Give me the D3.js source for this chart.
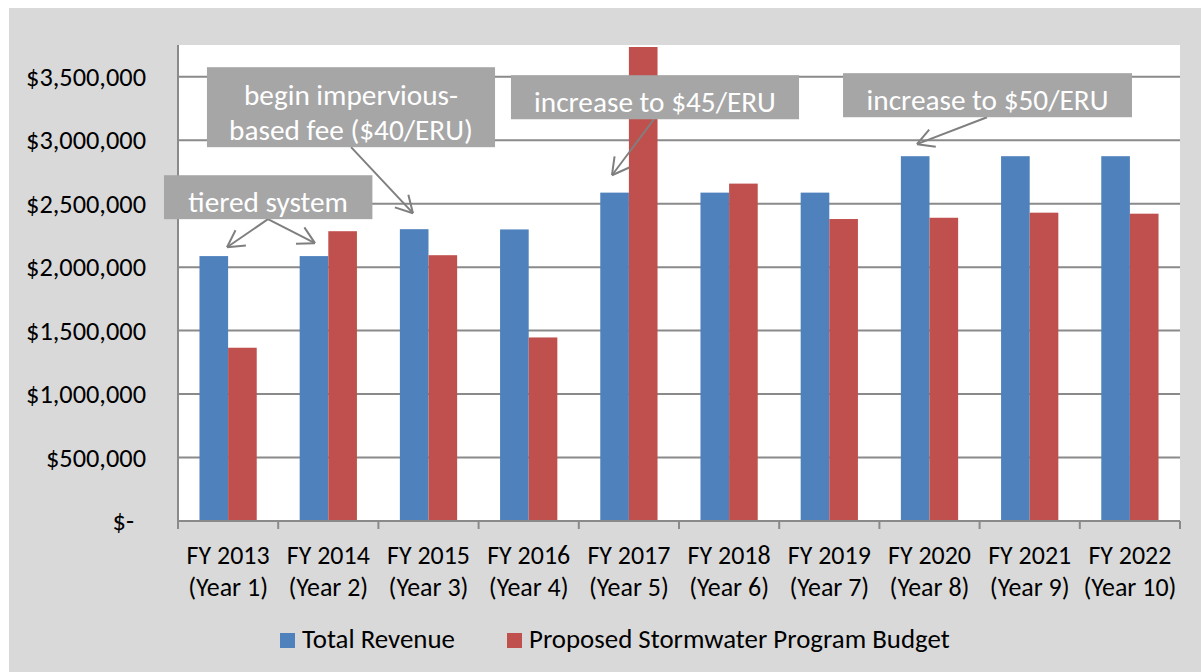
<!DOCTYPE html>
<html>
<head>
<meta charset="utf-8">
<script src="https://cdn.jsdelivr.net/npm/d3@7"></script>
<style>
  html, body { margin: 0; padding: 0; background: #ffffff; }
  svg { display: block; font-family: Carlito, Calibri, Lato, sans-serif; }
</style>
</head>
<body>
<svg id="chart" width="1201" height="672"></svg>
<script>
// ---- data ----
const categories = ["FY 2013","FY 2014","FY 2015","FY 2016","FY 2017","FY 2018","FY 2019","FY 2020","FY 2021","FY 2022"];
const yearLabels = ["(Year 1)","(Year 2)","(Year 3)","(Year 4)","(Year 5)","(Year 6)","(Year 7)","(Year 8)","(Year 9)","(Year 10)"];
const seriesNames = ["Total Revenue","Proposed Stormwater Program Budget"];
const totalRevenue = [2087000, 2087000, 2299000, 2297000, 2587000, 2587000, 2587000, 2874000, 2874000, 2874000];
const programBudget = [1365000, 2283000, 2094000, 1446000, 3800000, 2658000, 2379000, 2389000, 2429000, 2421000];
const yTicks = [0, 500000, 1000000, 1500000, 2000000, 2500000, 3000000, 3500000];
const yMax = 3750000;
// annotation anchors in (category units, dollars)
const annotationText = [["tiered system"], ["begin impervious-","based fee ($40/ERU)"], ["increase to $45/ERU"], ["increase to $50/ERU"]];
const annotationBox = [[-0.14, 2724000, 1.94, 2378000], [0.289, 3575000, 3.164, 2945000], [3.323, 3512000, 6.198, 3165000], [6.637, 3528000, 9.521, 3181000]];
const annotationFrom = [[0.898, 2378000], [1.727, 2945000], [4.75, 3165000], [8.074, 3181000]];
const annotationTo = [[[0.489, 2157000], [1.367, 2189000]], [[2.345, 2425000]], [[4.331, 2724000]], [[7.375, 2969000]]];

// ---- layout ----
const svg = d3.select("#chart");
const W = 1201, H = 672;
const plot = {left: 178, right: 1180, top: 45, bottom: 521};
const colors = ["#4f81bd", "#c0504d"];
const gridColor = "#8a8a8a";

// fit font sizes so sample strings reach the widths seen in the reference
function fitSize(sample, targetWidth) {
  const t = svg.append("text").attr("font-size", 20).text(sample);
  const w = t.node().getComputedTextLength();
  t.remove();
  return w > 0 ? 20 * targetWidth / w : 20;
}
const fsY = fitSize("$3,500,000", 120);
const fsX = fitSize("FY 2013", 83);
const fsLegend = fitSize("Total Revenue", 153);
const fsNote = fitSize("increase to $45/ERU", 242);

svg.append("rect").attr("x", 9).attr("y", 8).attr("width", W - 9).attr("height", H - 8).attr("fill", "#d9d9d9");
svg.append("rect").attr("x", plot.left).attr("y", plot.top)
  .attr("width", plot.right - plot.left).attr("height", plot.bottom - plot.top).attr("fill", "#ffffff");

const x = d3.scaleBand().domain(categories).range([plot.left, plot.right]).paddingInner(0).paddingOuter(0);
const x1 = d3.scaleBand().domain(seriesNames).range([0, x.bandwidth()]).paddingInner(0).paddingOuter(0.75);
const xu = d3.scaleLinear().domain([0, categories.length]).range([plot.left, plot.right]);
const y = d3.scaleLinear().domain([0, yMax]).range([plot.bottom, plot.top]);

// gridlines
svg.append("g").selectAll("line").data(yTicks.filter(d => d > 0)).join("line")
  .attr("x1", plot.left).attr("x2", plot.right)
  .attr("y1", d => y(d)).attr("y2", d => y(d))
  .attr("stroke", gridColor).attr("stroke-width", 2);

// clip
svg.append("clipPath").attr("id", "plotclip").append("rect")
  .attr("x", plot.left).attr("y", plot.top + 2).attr("width", plot.right - plot.left).attr("height", plot.bottom - plot.top);

// bars
const rows = categories.map((c, i) => ({cat: c, vals: [totalRevenue[i], programBudget[i]]}));
const gBars = svg.append("g").attr("clip-path", "url(#plotclip)");
rows.forEach(r => {
  r.vals.forEach((v, j) => {
    gBars.append("rect")
      .attr("x", x(r.cat) + x1(seriesNames[j]))
      .attr("width", x1.bandwidth())
      .attr("y", y(v))
      .attr("height", y(0) - y(v))
      .attr("fill", colors[j]);
  });
});

// y axis
const yAxis = d3.axisLeft(y).tickValues(yTicks).tickSize(0).tickPadding(0)
  .tickFormat(d => d === 0 ? "$-" : "$" + d3.format(",")(d));
const gy = svg.append("g").attr("transform", `translate(${plot.left},0)`).call(yAxis);
gy.select(".domain").remove();
gy.selectAll("text").attr("x", d => d === 0 ? -44 : -32).attr("dy", "0.33em")
  .attr("font-size", fsY).attr("fill", "#000").attr("font-family", "Carlito, Calibri, Lato, sans-serif");
svg.append("line").attr("x1", plot.left).attr("x2", plot.left).attr("y1", plot.top).attr("y2", plot.bottom)
  .attr("stroke", gridColor).attr("stroke-width", 2);

// x axis
svg.append("line").attr("x1", plot.left).attr("x2", plot.right).attr("y1", plot.bottom).attr("y2", plot.bottom)
  .attr("stroke", gridColor).attr("stroke-width", 2);
svg.append("g").selectAll("line").data(d3.range(categories.length + 1)).join("line")
  .attr("x1", d => xu(d)).attr("x2", d => xu(d)).attr("y1", plot.bottom).attr("y2", plot.bottom + 8)
  .attr("stroke", gridColor).attr("stroke-width", 2);
const xl = svg.append("g").selectAll("text").data(categories).join("text")
  .attr("text-anchor", "middle").attr("font-size", fsX).attr("fill", "#000");
xl.append("tspan").attr("x", d => x(d) + x.bandwidth() / 2).attr("y", 564).text(d => d);
xl.append("tspan").attr("x", d => x(d) + x.bandwidth() / 2).attr("y", 596).text((d, i) => yearLabels[i]);

// legend
const legendX = [280, 507];
seriesNames.forEach((s, j) => {
  svg.append("rect").attr("x", legendX[j]).attr("y", 633).attr("width", 15).attr("height", 15).attr("fill", colors[j]);
  svg.append("text").attr("x", legendX[j] + 22).attr("y", 648).attr("font-size", fsLegend).attr("fill", "#000").text(s);
});

// annotations
const arrowColor = "#7f7f7f";
annotationText.forEach((lines, k) => {
  const b = annotationBox[k];
  const bx0 = xu(b[0]), bx1 = xu(b[2]), by0 = y(b[1]), by1 = y(b[3]);
  const f = annotationFrom[k];
  const fx = xu(f[0]), fy = y(f[1]);
  annotationTo[k].forEach(t => {
    const tx = xu(t[0]), ty = y(t[1]);
    svg.append("line").attr("x1", fx).attr("y1", fy).attr("x2", tx).attr("y2", ty)
      .attr("stroke", arrowColor).attr("stroke-width", 2);
    const ang = Math.atan2(fy - ty, fx - tx);
    const len = 19, spread = 29 * Math.PI / 180;
    [ang - spread, ang + spread].forEach(a => {
      svg.append("line").attr("x1", tx).attr("y1", ty)
        .attr("x2", tx + len * Math.cos(a)).attr("y2", ty + len * Math.sin(a))
        .attr("stroke", arrowColor).attr("stroke-width", 2);
    });
  });
  svg.append("rect").attr("x", bx0).attr("y", by0).attr("width", bx1 - bx0).attr("height", by1 - by0)
    .attr("fill", "#a6a6a6");
  const t = svg.append("text").attr("text-anchor", "middle").attr("font-size", fsNote).attr("fill", "#ffffff");
  lines.forEach((ln, i) => {
    t.append("tspan").attr("x", (bx0 + bx1) / 2)
      .attr("y", by1 - 7 - (lines.length - 1 - i) * 35).text(ln);
  });
});
</script>
</body>
</html>
